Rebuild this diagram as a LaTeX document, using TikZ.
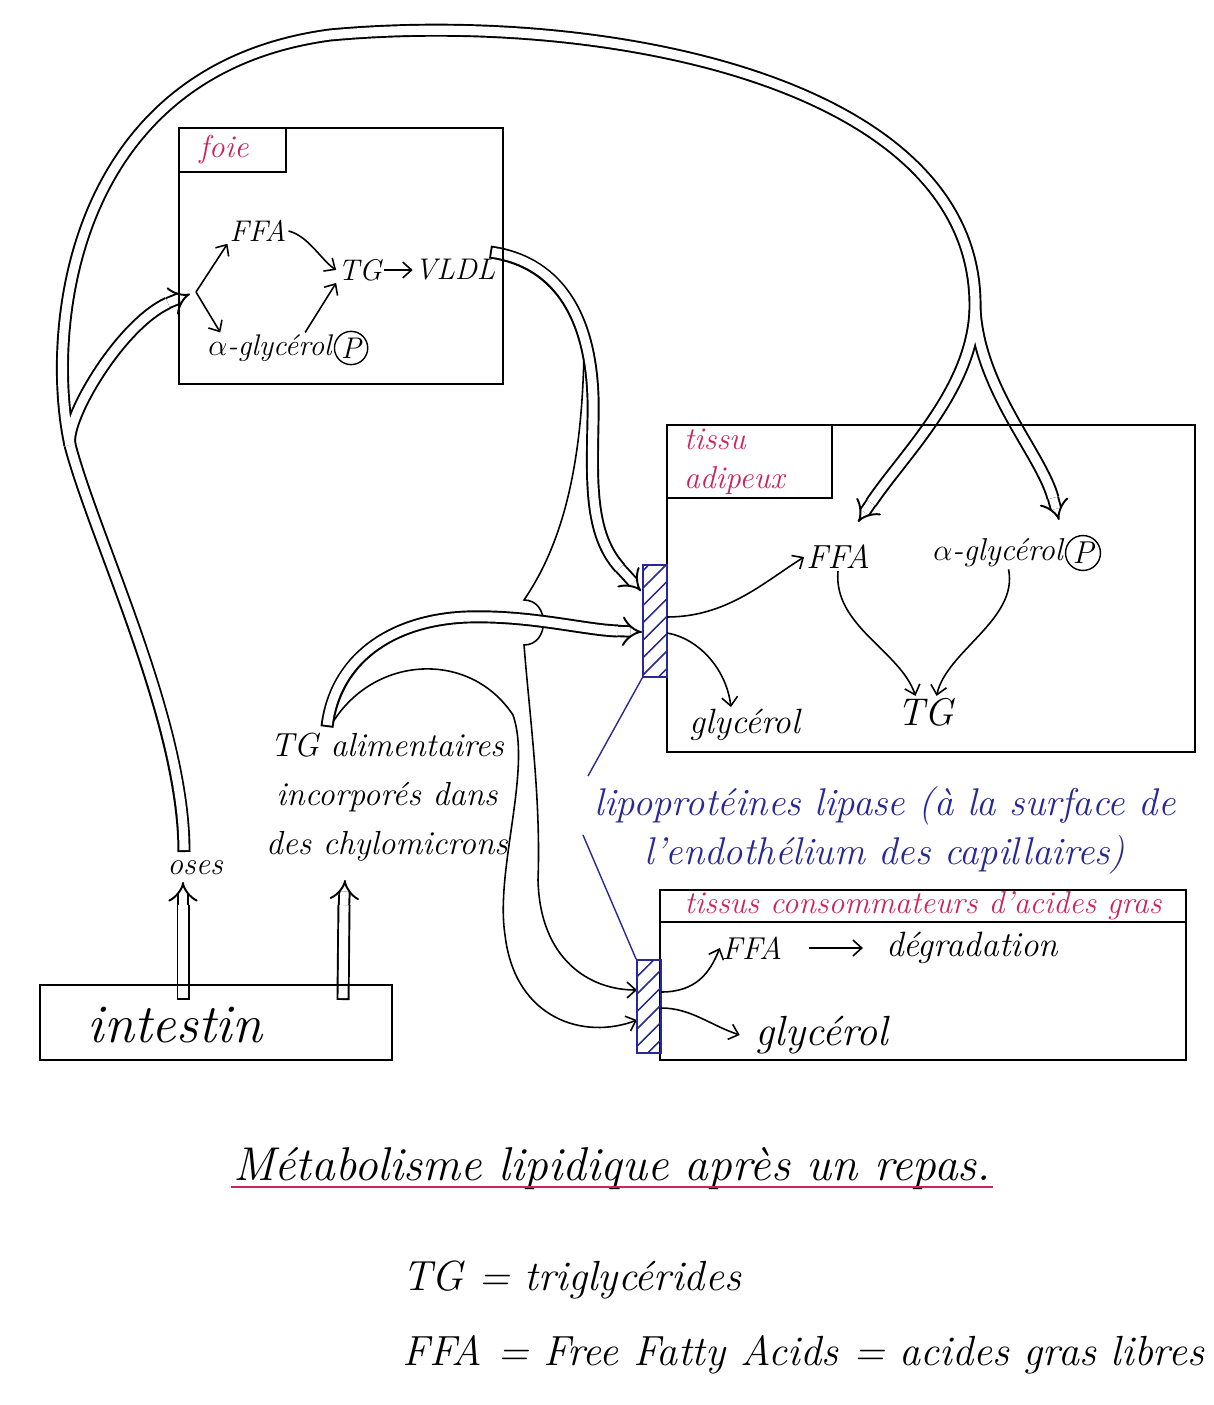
\documentclass[tikz,border=0pt]{standalone}
\usepackage{fontspec}
\usepackage{tikz}
\usetikzlibrary{positioning,arrows.meta,patterns.meta}

\definecolor{encrerouge}{RGB}{205,35,95}
\definecolor{encrebleue}{RGB}{40,40,150}
\newcommand{\manus}[2]{\fontsize{#1}{#2}\selectfont\itshape}

\begin{document}
\begin{tikzpicture}[x=0.02cm,y=-0.02cm]
  \tikzstyle{every node}=[inner sep=1pt]
  \tikzstyle{organe}=[draw,line width=1pt]
  \tikzstyle{fleche}=[line width=0.9pt,-{Straight Barb[length=5pt,width=9pt]}]
  \tikzstyle{lipase}=[draw=encrebleue,line width=1pt,pattern={Lines[angle=45,distance=7pt,line width=0.7pt]},pattern color=encrebleue,minimum width=0.48cm,inner sep=0pt]
  \tikzstyle{bout}=[draw=black,double=white,line width=1.1pt,double distance=4.8pt,-Implies]
  \tikzstyle{phosphate}=[draw,circle,line width=0.8pt,inner sep=1pt]

  \useasboundingbox (0,0) rectangle (1213,1405);

  % points de passage des tuyaux
  \coordinate (osesFoot) at (183,1000);
  \coordinate (osesPre) at (183,905);
  \coordinate (osesTip) at (183,882);
  \coordinate (chyFoot) at (343,1000);
  \coordinate (chyPre) at (344,905);
  \coordinate (chyTip) at (345,880);
  \coordinate (osesTop) at (184,852);
  \coordinate (forkL) at (70,445);
  \coordinate (foiePre) at (168,303);
  \coordinate (foieIn) at (190,294);
  \coordinate (arcTop) at (330,35);
  \coordinate (forkR) at (975,310);
  \coordinate (adFFAPre) at (871,503);
  \coordinate (adFFATip) at (858,522);
  \coordinate (adGlyPre) at (1053,498);
  \coordinate (adGlyTip) at (1059,520);
  \coordinate (chyTop) at (327,727);
  \coordinate (chyBranch) at (333,722);
  \coordinate (chyBarPre) at (618,631);
  \coordinate (chyBarTip) at (642,632);
  \coordinate (vldlOut) at (490,252);
  \coordinate (vldlBranch) at (584,352);
  \coordinate (vldlBarPre) at (620,568);
  \coordinate (vldlBarTip) at (641,591);
  \coordinate (bumpTop) at (524,600);
  \coordinate (bumpBot) at (524,645);
  \coordinate (foieSplit) at (196,292);

  % capillaires (lipoproteine lipase)
  \node[lipase,minimum height=2.24cm] (lpl1) at (655,621) {};
  \node[lipase,minimum height=1.86cm] (lpl2) at (649,1006.5) {};
  \coordinate (p1a) at (667,617);
  \coordinate (p1b) at (667,633);
  \coordinate (p2a) at (661,992);
  \coordinate (p2b) at (661,1008);
  \coordinate (q2a) at (637,990);
  \coordinate (q2b) at (637,1020);

  % traits simples vers le second capillaire
  \draw[fleche] (vldlBranch) .. controls (582,460) and (565,540) .. (bumpTop)
     .. controls (550,600) and (550,645) .. (bumpBot)
     .. controls (530,720) and (541,800) .. (538,880)
     .. controls (540,960) and (590,990) .. (q2a);
  \draw[fleche] (chyBranch) .. controls (375,655) and (470,650) .. (513,715)
     .. controls (532,770) and (495,870) .. (505,935)
     .. controls (515,1020) and (585,1040) .. (q2b);

  % tuyaux : contour noir puis coeur blanc
  \foreach \w/\c/\s in {7.4/black/0,5.2/white/1.1}{
    % intestin -> oses, intestin -> chylomicrons
    \draw[line width=\w pt,draw=\c,shorten <=\s pt] (osesFoot) -- (osesPre);
    \draw[line width=\w pt,draw=\c,shorten <=\s pt] (chyFoot) -- (chyPre);
    % oses -> fourche
    \draw[line width=\w pt,draw=\c,shorten <=\s pt] (osesTop) .. controls (184,720) and (95,540) .. (forkL);
    % fourche -> foie
    \draw[line width=\w pt,draw=\c] (forkL) .. controls (64,420) and (120,325) .. (foiePre);
    % grand arc vers le tissu adipeux
    \draw[line width=\w pt,draw=\c] (forkL) .. controls (45,330) and (70,70) .. (arcTop)
       .. controls (600,10) and (980,80) .. (forkR);
    \draw[line width=\w pt,draw=\c] (forkR) .. controls (972,390) and (903,455) .. (adFFAPre);
    \draw[line width=\w pt,draw=\c] (forkR) .. controls (980,390) and (1041,454) .. (adGlyPre);
    % chylomicrons -> capillaire
    \draw[line width=\w pt,draw=\c,shorten <=\s pt] (chyTop) .. controls (335,660) and (390,620) .. (467,617)
       .. controls (530,615) and (585,630) .. (chyBarPre);
    % VLDL -> capillaire
    \draw[line width=\w pt,draw=\c,shorten <=\s pt] (vldlOut) .. controls (560,262) and (596,320) .. (593,420)
       .. controls (592,480) and (589,534) .. (vldlBarPre);
  }
  % pointes des tuyaux
  \draw[bout] (osesPre) -- (osesTip);
  \draw[bout] (chyPre) -- (chyTip);
  \draw[bout] (foiePre) -- (foieIn);
  \draw[bout] (adFFAPre) -- (adFFATip);
  \draw[bout] (adGlyPre) -- (adGlyTip);
  \draw[bout] (chyBarPre) -- (chyBarTip);
  \draw[bout] (vldlBarPre) -- (vldlBarTip);

  % organes
  \draw[organe] (179,128) rectangle (503,384);
  \draw[organe] (179,172) -| (286,128);
  \draw[organe] (667,425) rectangle (1195,752);
  \draw[organe] (667,498) -| (832,425);
  \draw[organe] (660,890) rectangle (1186,1060);
  \draw[organe] (660,922) -- (1186,922);
  \draw[organe] (40,985) rectangle (392,1060);
  \node[lipase,minimum height=2.24cm] at (lpl1) {};
  \node[lipase,minimum height=1.86cm] at (lpl2) {};

  % foie
  \node[text=encrerouge,font=\manus{18}{20}] (foieT) at (224,150) {foie};
  \node[font=\manus{17}{20}] (FFAf) at (258,231) {FFA};
  \node[font=\manus{17}{20}] (TGf) at (360,270) {TG};
  \node[font=\manus{17}{20}] (VLDL) at (455,270) {VLDL};
  \node[font=\manus{17}{20}] (aglyF) at (270,348) {$\alpha$-glycérol};
  \node[phosphate,font=\manus{17}{18},right=0pt of aglyF] (phosF) {P};
  \draw[fleche] (foieSplit) -- (FFAf.south west);
  \draw[fleche] (foieSplit) -- ([xshift=8pt]aglyF.north west);
  \draw[fleche] ([xshift=20pt]aglyF.north) -- (TGf.south west);
  \draw[fleche] (FFAf.east) .. controls +(20,5) and +(-15,-10) .. (TGf.west);
  \draw[fleche] (TGf) -- (VLDL);

  % tissu adipeux
  \node[text=encrerouge,font=\manus{18}{22},align=left,anchor=west] (adipT) at (682,462) {tissu\\adipeux};
  \node[font=\manus{19}{22}] (FFAa) at (838,557) {FFA};
  \node[font=\manus{18}{22}] (aglyA) at (998,553) {$\alpha$-glycérol};
  \node[phosphate,font=\manus{18}{20},right=0pt of aglyA] (phosA) {P};
  \node[font=\manus{22}{24}] (TGa) at (926,712) {TG};
  \node[font=\manus{20}{22}] (glyA) at (745,725) {glycérol};
  \draw[fleche] (p1a) .. controls +(60,0) and +(-40,25) .. (FFAa.west);
  \draw[fleche] (p1b) .. controls +(30,5) and +(-5,-40) .. ([xshift=-8pt]glyA.north);
  \draw[fleche] (FFAa.south) .. controls +(-5,55) and +(-15,-45) .. ([xshift=-6pt]TGa.north);
  \draw[fleche] ([xshift=6pt]aglyA.south) .. controls +(10,50) and +(10,-45) .. ([xshift=6pt]TGa.north);

  % tissus consommateurs
  \node[text=encrerouge,font=\manus{18}{20}] (consT) at (923,906) {tissus consommateurs d'acides gras};
  \node[font=\manus{18}{20}] (FFAc) at (752,948) {FFA};
  \node[font=\manus{20}{22}] (degr) at (972,948) {dégradation};
  \node[font=\manus{24}{26}] (glyC) at (822,1035) {glycérol};
  \draw[fleche] (p2a) .. controls +(35,0) and +(-10,25) .. (FFAc.west);
  \draw[fleche] (p2b) .. controls +(30,0) and +(-30,-10) .. ([xshift=-8pt]glyC.west);
  \draw[fleche,shorten <=14pt,shorten >=12pt] (FFAc) -- (degr);

  % intestin
  \node[font=\manus{31}{32}] (intestin) at (175,1025) {intestin};
  \node[font=\manus{18}{20}] (oses) at (195,868) {oses};
  \node[font=\manus{19}{28},align=center] (chylo) at (387,797) {TG alimentaires\\incorporés dans\\des chylomicrons};

  % lipoproteine lipase
  \node[text=encrebleue,font=\manus{22}{28},align=center] (lipTxt) at (885,830) {lipoprotéines lipase (à la surface de\\l'endothélium des capillaires)};
  \coordinate (ptrA) at (588,776);
  \coordinate (ptrB) at (583,835);
  \draw[encrebleue,line width=0.8pt] (ptrA) -- (lpl1.south west);
  \draw[encrebleue,line width=0.8pt] (ptrB) -- (lpl2.north west);

  % titre et legende
  \node[font=\manus{27}{30},anchor=base] (titre) at (612,1180) {Métabolisme lipidique après un repas.};
  \draw[encrerouge,line width=1.2pt] ([yshift=-4pt]titre.base west) -- ([yshift=-4pt]titre.base east);
  \node[font=\manus{24}{26},anchor=base west] (tgdef) at (400,1290) {TG = triglycérides};
  \node[font=\manus{24}{26},anchor=base west] (ffadef) at (400,1365) {FFA = Free Fatty Acids = acides gras libres};
\end{tikzpicture}
\end{document}
